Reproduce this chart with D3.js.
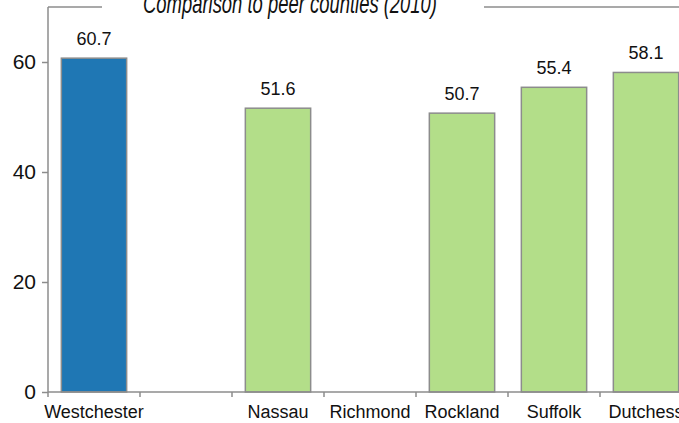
<!DOCTYPE html>
<html>
<head>
<meta charset="utf-8">
<script src="https://cdn.jsdelivr.net/npm/d3@7"></script>
<style>
  body { margin: 0; background: #fff; }
  svg { display: block; font-family: "Liberation Sans", Arial, sans-serif; }
</style>
</head>
<body>
<svg width="679" height="423"></svg>
<script>
// data
const counties = ['Westchester', '', 'Nassau', 'Richmond', 'Rockland', 'Suffolk', 'Dutchess'];
const values = [60.7, null, 51.6, null, 50.7, 55.4, 58.1];
const yTicks = [0, 20, 40, 60];
const title = 'Comparison to peer counties  (2010)';

const svg = d3.select('svg');
const MARGIN = { TOP: 7, LEFT: 48 };
const BOTTOM_Y = 392;
const GRAY = '#8c8c8c';

const x = d3.scaleBand()
  .domain(counties.map((c, i) => i))
  .range([MARGIN.LEFT, MARGIN.LEFT + 92 * counties.length])
  .paddingInner(0.29)
  .paddingOuter(0.145);

const y = d3.scaleLinear().domain([0, 70]).range([BOTTOM_Y, MARGIN.TOP]);

// frame top line
svg.append('line')
  .attr('x1', MARGIN.LEFT).attr('x2', 679)
  .attr('y1', y(70)).attr('y2', y(70))
  .attr('stroke', GRAY).attr('stroke-width', 1.5);

// bars
const data = counties.map((c, i) => ({ c, i, v: values[i] })).filter(d => d.v != null);

svg.append('g')
  .selectAll('rect')
  .data(data)
  .join('rect')
  .attr('x', d => x(d.i))
  .attr('width', x.bandwidth())
  .attr('y', d => y(d.v))
  .attr('height', d => y(0) - y(d.v))
  .attr('fill', d => d.i === 0 ? '#1f77b4' : '#b3de89')
  .attr('stroke', GRAY)
  .attr('stroke-width', 1.5);

// value labels
svg.append('g')
  .selectAll('text')
  .data(data)
  .join('text')
  .attr('x', d => x(d.i) + x.bandwidth() / 2)
  .attr('y', d => y(d.v) - 13.5)
  .attr('text-anchor', 'middle')
  .attr('font-size', 18)
  .attr('fill', '#111')
  .text(d => d.v.toFixed(1));

// y axis
const yAxis = svg.append('g')
  .attr('transform', `translate(${MARGIN.LEFT},0)`)
  .call(d3.axisLeft(y).tickValues(yTicks).tickSize(6).tickPadding(6));
yAxis.select('.domain').attr('stroke', GRAY).attr('stroke-width', 1.5)
  .attr('d', `M0,${y(70)}V${y(0)}`);
yAxis.selectAll('.tick line').attr('stroke', GRAY).attr('stroke-width', 1.5);
yAxis.selectAll('.tick text').attr('font-size', 21).attr('fill', '#111')
  .attr('font-family', '"Liberation Sans", Arial, sans-serif');

// x axis: ticks at band boundaries
const bounds = d3.range(counties.length + 1).map(i => MARGIN.LEFT + 92 * i);
const xAxis = svg.append('g');
xAxis.append('line')
  .attr('x1', MARGIN.LEFT).attr('x2', 679)
  .attr('y1', y(0)).attr('y2', y(0))
  .attr('stroke', GRAY).attr('stroke-width', 1.5);
xAxis.selectAll('line.tk')
  .data(bounds)
  .join('line')
  .attr('class', 'tk')
  .attr('x1', d => d).attr('x2', d => d)
  .attr('y1', y(0)).attr('y2', y(0) + 5)
  .attr('stroke', GRAY).attr('stroke-width', 1.5);
xAxis.selectAll('text')
  .data(counties.map((c, i) => ({ c, i })))
  .join('text')
  .attr('x', d => x(d.i) + x.bandwidth() / 2)
  .attr('y', 418)
  .attr('text-anchor', 'middle')
  .attr('font-size', 18)
  .attr('fill', '#111')
  .text(d => d.c);

// title with white backing over the frame line
svg.append('rect')
  .attr('x', 102).attr('y', 0)
  .attr('width', 382).attr('height', 16)
  .attr('fill', '#fff');
svg.append('text')
  .attr('x', 143)
  .attr('y', 12.5)
  .attr('font-size', 28)
  .attr('font-style', 'italic')
  .attr('fill', '#111')
  .attr('textLength', 294)
  .attr('lengthAdjust', 'spacingAndGlyphs')
  .text(title);
</script>
</body>
</html>
